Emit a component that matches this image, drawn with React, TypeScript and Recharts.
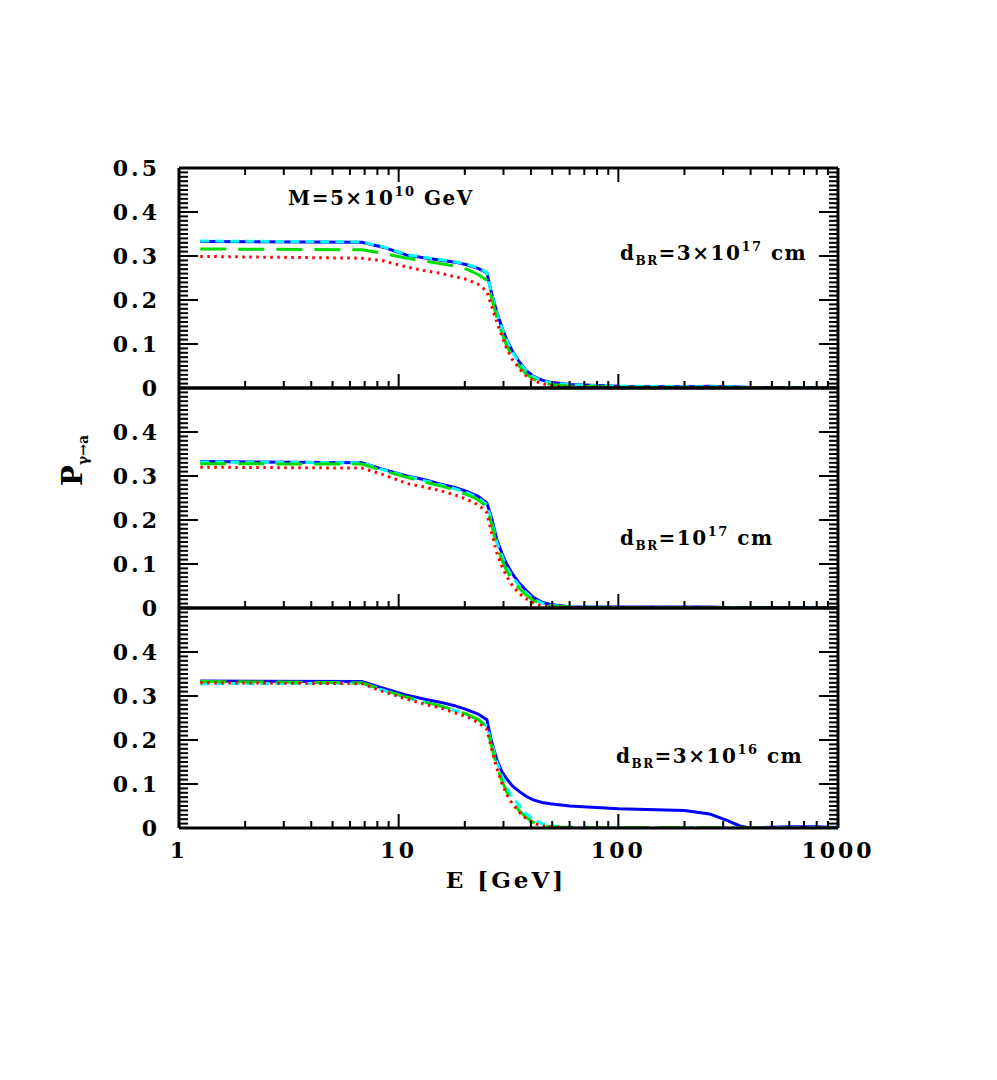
import React from 'react';
import { LineChart, Line, XAxis, YAxis } from 'recharts';

// Photon energy grid (GeV)
const energyGeV = [1.25, 6.8, 8.5, 10.9, 13, 15.4, 18, 20.4, 23, 25.2, 26.5, 28, 29.5, 31, 33, 35.6, 38, 41, 45, 49, 60, 100, 200, 260, 310, 360, 400, 600, 800, 1000];

// Panel 1: d_BR = 3x10^17 cm
const p1Blue = [0.333, 0.331, 0.320, 0.302, 0.296, 0.291, 0.286, 0.280, 0.272, 0.262, 0.215, 0.172, 0.138, 0.110, 0.083, 0.058, 0.040, 0.027, 0.018, 0.013, 0.008, 0.004, 0.003, 0.004, 0.003, 0.002, 0.001, 0.001, 0.001, 0.000];
const p1Cyan = [0.334, 0.332, 0.321, 0.303, 0.297, 0.292, 0.287, 0.281, 0.273, 0.263, 0.213, 0.170, 0.136, 0.108, 0.081, 0.056, 0.039, 0.026, 0.017, 0.012, 0.007, 0.004, 0.003, 0.003, 0.003, 0.002, 0.001, 0.001, 0.001, 0.000];
const p1Green = [0.316, 0.314, 0.306, 0.295, 0.289, 0.283, 0.277, 0.270, 0.258, 0.245, 0.205, 0.160, 0.125, 0.097, 0.071, 0.048, 0.032, 0.020, 0.012, 0.008, 0.004, 0.002, 0.001, 0.001, 0.001, 0.001, 0.001, 0.000, 0.000, 0.000];
const p1Red = [0.299, 0.295, 0.289, 0.275, 0.267, 0.261, 0.253, 0.247, 0.236, 0.220, 0.185, 0.150, 0.118, 0.090, 0.064, 0.042, 0.028, 0.017, 0.010, 0.005, 0.002, 0.001, 0.001, 0.001, 0.000, 0.000, 0.000, 0.000, 0.000, 0.000];

// Panel 2: d_BR = 10^17 cm
const p2Blue = [0.333, 0.330, 0.315, 0.300, 0.292, 0.282, 0.274, 0.265, 0.254, 0.239, 0.205, 0.155, 0.125, 0.100, 0.077, 0.055, 0.040, 0.024, 0.013, 0.008, 0.003, 0.002, 0.002, 0.002, 0.001, 0.001, 0.001, 0.001, 0.001, 0.000];
const p2Cyan = [0.332, 0.330, 0.314, 0.299, 0.290, 0.280, 0.271, 0.262, 0.250, 0.235, 0.198, 0.148, 0.118, 0.092, 0.070, 0.049, 0.035, 0.020, 0.011, 0.006, 0.002, 0.001, 0.001, 0.001, 0.001, 0.001, 0.000, 0.000, 0.000, 0.000];
const p2Green = [0.328, 0.327, 0.312, 0.297, 0.287, 0.278, 0.268, 0.258, 0.246, 0.230, 0.190, 0.140, 0.110, 0.085, 0.063, 0.043, 0.030, 0.017, 0.009, 0.005, 0.002, 0.001, 0.001, 0.001, 0.001, 0.000, 0.000, 0.000, 0.000, 0.000];
const p2Red = [0.320, 0.318, 0.303, 0.283, 0.275, 0.267, 0.257, 0.247, 0.235, 0.217, 0.170, 0.125, 0.095, 0.072, 0.050, 0.032, 0.021, 0.011, 0.005, 0.003, 0.001, 0.000, 0.000, 0.000, 0.000, 0.000, 0.000, 0.000, 0.000, 0.000];

// Panel 3: d_BR = 3x10^16 cm
const p3Blue = [0.334, 0.333, 0.318, 0.302, 0.293, 0.286, 0.278, 0.269, 0.259, 0.246, 0.196, 0.155, 0.128, 0.112, 0.095, 0.082, 0.072, 0.064, 0.058, 0.055, 0.050, 0.044, 0.040, 0.032, 0.018, 0.004, 0.000, 0.003, 0.003, 0.001];
const p3Cyan = [0.328, 0.329, 0.313, 0.296, 0.286, 0.277, 0.267, 0.258, 0.246, 0.232, 0.192, 0.150, 0.118, 0.092, 0.070, 0.050, 0.033, 0.020, 0.010, 0.005, 0.002, 0.001, 0.001, 0.001, 0.001, 0.000, 0.000, 0.000, 0.000, 0.000];
const p3Green = [0.333, 0.330, 0.314, 0.297, 0.287, 0.278, 0.268, 0.259, 0.247, 0.230, 0.185, 0.140, 0.108, 0.082, 0.058, 0.038, 0.024, 0.013, 0.006, 0.003, 0.001, 0.001, 0.001, 0.001, 0.000, 0.000, 0.000, 0.000, 0.000, 0.000];
const p3Red = [0.330, 0.328, 0.310, 0.293, 0.282, 0.273, 0.262, 0.253, 0.240, 0.224, 0.180, 0.135, 0.102, 0.077, 0.054, 0.035, 0.022, 0.011, 0.005, 0.002, 0.001, 0.000, 0.000, 0.000, 0.000, 0.000, 0.000, 0.000, 0.000, 0.000];

// Ticks
const xMajorTicks = [1, 10, 100, 1000];
const xMinorTicks = [2, 3, 4, 5, 6, 7, 8, 9, 20, 30, 40, 50, 60, 70, 80, 90, 200, 300, 400, 500, 600, 700, 800, 900];
const yLabelTicksTop = [0, 0.1, 0.2, 0.3, 0.4, 0.5];
const yLabelTicksLower = [0, 0.1, 0.2, 0.3, 0.4];
const yMajorTicks = [0, 0.1, 0.2, 0.3, 0.4, 0.5];
const yMinorTicks = [
  0.01, 0.02, 0.03, 0.04, 0.05, 0.06, 0.07, 0.08, 0.09,
  0.11, 0.12, 0.13, 0.14, 0.15, 0.16, 0.17, 0.18, 0.19,
  0.21, 0.22, 0.23, 0.24, 0.25, 0.26, 0.27, 0.28, 0.29,
  0.31, 0.32, 0.33, 0.34, 0.35, 0.36, 0.37, 0.38, 0.39,
  0.41, 0.42, 0.43, 0.44, 0.45, 0.46, 0.47, 0.48, 0.49,
];

const buildRows = (b: number[], c: number[], g: number[], r: number[]) =>
  energyGeV.map((E, i) => ({ E, blue: b[i], cyan: c[i], green: g[i], red: r[i] }));

const panels = [
  { top: 168, rows: buildRows(p1Blue, p1Cyan, p1Green, p1Red), labelTicks: yLabelTicksTop, topTicks: true, xLabels: false },
  { top: 388, rows: buildRows(p2Blue, p2Cyan, p2Green, p2Red), labelTicks: yLabelTicksLower, topTicks: false, xLabels: false },
  { top: 608, rows: buildRows(p3Blue, p3Cyan, p3Green, p3Red), labelTicks: yLabelTicksLower, topTicks: false, xLabels: true },
];

const FONT = 'DejaVu Serif';
const tickFont = { fontFamily: FONT, fontWeight: 700, fontSize: 22, fill: '#000', letterSpacing: 3 } as any;
const frame = { stroke: '#000', strokeWidth: 3 };
const tl = { stroke: '#000', strokeWidth: 2 };
const PLOT_H = 220;
const LABEL_H = 60;
const PAD = 16;
const TINY = 0.001;
const NoLabel = () => <g />;

const xCommon = { type: 'number' as const, scale: 'log' as const, domain: [1, 1000], allowDataOverflow: true, interval: 0 as const };
const yCommon = { type: 'number' as const, domain: [0, 0.5], allowDataOverflow: true, interval: 0 as const };

function Panel({ top, rows, labelTicks, topTicks, xLabels }: any) {
  const h = PLOT_H + PAD * 2 + (xLabels ? LABEL_H : 0);
  const xid = xLabels ? 'lab' : 'b';
  return (
    <div style={{ position: 'absolute', left: 0, top: top - PAD }}>
      <LineChart width={900} height={h} data={rows} margin={{ top: PAD, right: 62, bottom: PAD, left: 0 }}>
        {xLabels && (
          <XAxis xAxisId="lab" dataKey="E" {...xCommon} orientation="bottom" height={LABEL_H} ticks={xMajorTicks} tick={tickFont} tickSize={0} tickMargin={14} tickLine={false} axisLine={false} />
        )}
        {/* bottom frame + inward ticks */}
        <XAxis xAxisId="b" dataKey="E" {...xCommon} orientation="bottom" mirror height={TINY} ticks={xMajorTicks} tick={NoLabel} tickSize={14} tickLine={tl} axisLine={frame} />
        <XAxis xAxisId="bm" dataKey="E" {...xCommon} orientation="bottom" mirror height={TINY} ticks={xMinorTicks} tick={NoLabel} tickSize={7} tickLine={tl} axisLine={false} />
        {/* top frame */}
        <XAxis xAxisId="t" dataKey="E" {...xCommon} orientation="top" mirror height={TINY} ticks={xMajorTicks} tick={NoLabel} tickSize={topTicks ? 14 : 0} tickLine={topTicks ? tl : false} axisLine={frame} />
        {topTicks && (
          <XAxis xAxisId="tm" dataKey="E" {...xCommon} orientation="top" mirror height={TINY} ticks={xMinorTicks} tick={NoLabel} tickSize={7} tickLine={tl} axisLine={false} />
        )}
        {/* left labels + frame */}
        <YAxis yAxisId="l" {...yCommon} orientation="left" width={179} ticks={labelTicks} tick={tickFont} tickSize={0} tickMargin={19} tickLine={false} axisLine={frame} />
        <YAxis yAxisId="lM" {...yCommon} orientation="left" mirror width={TINY} ticks={yMajorTicks} tick={NoLabel} tickSize={19} tickLine={tl} axisLine={false} />
        <YAxis yAxisId="lm" {...yCommon} orientation="left" mirror width={TINY} ticks={yMinorTicks} tick={NoLabel} tickSize={9} tickLine={tl} axisLine={false} />
        {/* right frame + ticks */}
        <YAxis yAxisId="rM" {...yCommon} orientation="right" mirror width={TINY} ticks={yMajorTicks} tick={NoLabel} tickSize={19} tickLine={tl} axisLine={frame} />
        <YAxis yAxisId="rm" {...yCommon} orientation="right" mirror width={TINY} ticks={yMinorTicks} tick={NoLabel} tickSize={9} tickLine={tl} axisLine={false} />

        <Line xAxisId={xid} yAxisId="l" type="linear" dataKey="blue" stroke="#0000ff" strokeWidth={3} dot={false} activeDot={false} isAnimationActive={false} />
        <Line xAxisId={xid} yAxisId="l" type="linear" dataKey="cyan" stroke="#00ffff" strokeWidth={3} strokeDasharray="9 6" dot={false} activeDot={false} isAnimationActive={false} />
        <Line xAxisId={xid} yAxisId="l" type="linear" dataKey="green" stroke="#00dd00" strokeWidth={3} strokeDasharray="26 12" dot={false} activeDot={false} isAnimationActive={false} />
        <Line xAxisId={xid} yAxisId="l" type="linear" dataKey="red" stroke="#ff0000" strokeWidth={3} strokeDasharray="2.5 4.5" dot={false} activeDot={false} isAnimationActive={false} />
      </LineChart>
    </div>
  );
}

const annoStyle = { fontFamily: FONT, fontWeight: 700, fill: '#000' } as any;

function DLabel({ x, y, pre, exp }: { x: number; y: number; pre: string; exp: string }) {
  return (
    <text x={x} y={y} fontSize={20} letterSpacing={1.5} {...annoStyle}>
      d
      <tspan dy={5} fontSize={12}>BR</tspan>
      <tspan dy={-5} fontSize={20}>{pre}</tspan>
      <tspan dy={-9} fontSize={13}>{exp}</tspan>
      <tspan dy={9} fontSize={20}>{' cm'}</tspan>
    </text>
  );
}

export default function App() {
  return (
    <div style={{ position: 'absolute', left: 0, top: 0, width: 997, height: 1080, background: '#fff' }}>
      {panels.map((p, i) => (
        <Panel key={i} {...p} />
      ))}
      <svg width={997} height={1080} style={{ position: 'absolute', left: 0, top: 0, pointerEvents: 'none' }}>
        <text x={288} y={205} fontSize={20} letterSpacing={1.5} {...annoStyle}>
          M=5×10
          <tspan dy={-9} fontSize={13}>10</tspan>
          <tspan dy={9} fontSize={20}>{' GeV'}</tspan>
        </text>
        <DLabel x={620} y={260} pre="=3×10" exp="17" />
        <DLabel x={620} y={545} pre="=10" exp="17" />
        <DLabel x={616} y={763} pre="=3×10" exp="16" />
        <text x={82} y={486} transform="rotate(-90 82 486)" fontSize={28} {...annoStyle}>
          P
          <tspan dy={6} fontSize={14}>γ→a</tspan>
        </text>
        <text x={506} y={888} textAnchor="middle" fontSize={23} letterSpacing={3} {...annoStyle}>
          E [GeV]
        </text>
      </svg>
    </div>
  );
}
